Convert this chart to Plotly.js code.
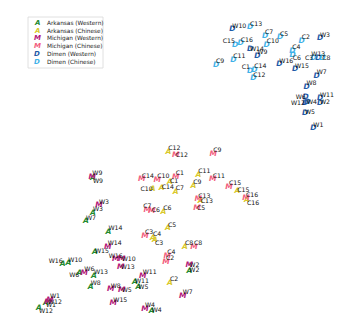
<!DOCTYPE html>
<html>
<head>
<meta charset="utf-8">
<script src="https://cdn.plot.ly/plotly-3.0.1.min.js"></script>
<style>html,body{margin:0;padding:0;background:#fff;}#chart{width:350px;height:333px;}</style>
</head>
<body>
<div id="chart"></div>
<script>
// Embedding coordinates (x to the right, y downward)
const westLabels = ["W1","W2","W3","W4","W5","W6","W7","W8","W9","W10","W11","W12","W13","W14","W15","W16"];
const chinLabels = ["C1","C2","C3","C4","C5","C6","C7","C8","C9","C10","C11","C12","C13","C14","C15","C16"];

const arkW_x = [46, 189.3, 93, 151.7, 138.3, 79.3, 86, 90.7, 93, 68.3, 135, 39, 94, 108.5, 95, 62.7];
const arkW_y = [302.7, 270.7, 213, 310.7, 287.3, 272.7, 221.5, 286.7, 178, 263.3, 281.7, 308.3, 276, 232, 251.7, 264.3];

const arkC_x = [170, 170, 155, 153, 168, 163.3, 175.7, 185, 193.3, 152.7, 198.3, 168.3, 200.7, 161.7, 237.3, 247];
const arkC_y = [181.7, 282.7, 240, 238, 228.3, 211.7, 191.7, 246.7, 186, 189.3, 175, 151.7, 201, 187.7, 190.7, 200];

const micW_x = [50, 189.3, 99, 145, 121.7, 84.3, 182.7, 110.7, 92.3, 121.7, 142.7, 48, 120.7, 107.7, 113.3, 115.7];
const micW_y = [300, 265, 205.5, 309, 290, 272.7, 296, 289.3, 176.7, 259.3, 276, 302.5, 267.3, 246.7, 303.3, 259.3];

const micC_x = [175.7, 166, 145, 167.3, 197, 151.7, 147.3, 194, 213.3, 157.3, 212.7, 175.7, 198.3, 141.7, 229, 246];
const micC_y = [176.7, 261.7, 236, 256, 208, 210.7, 210, 246.7, 154, 180, 179.3, 155, 199.3, 179.3, 186.7, 198.3];

const dimW_x = [313.3, 320, 320, 307, 305, 305.7, 316.7, 306.5, 257.3, 232.3, 320, 305, 318.3, 250, 295, 279.3];
const dimW_y = [128.3, 102.7, 38.3, 102, 112.7, 97.3, 76, 86.7, 56, 29.3, 98.3, 103.5, 57.7, 49.3, 69.3, 64.3];

const dimC_x = [250, 301.7, 313.3, 292.3, 280, 292.7, 265, 322.3, 216, 266.7, 233.3, 253.3, 250, 254.3, 235, 240.7];
const dimC_y = [71, 40.7, 58.3, 50.7, 37.3, 55, 36, 58.3, 65, 45, 60, 78.3, 27.3, 70, 45, 43.3];

const seriesNames = ["Arkansas (Western)","Arkansas (Chinese)","Michigan (Western)","Michigan (Chinese)","Dimen (Western)","Dimen (Chinese)"];
const seriesGlyphs = ["A","A","M","M","D","D"];

// label placement (style)
const TR="top right", MR="middle right", BR="bottom right", TL="top left", ML="middle left", BL="bottom left", TC="top center", BC="bottom center";
const arkW_pos = [BR,MR,TR,MR,MR,BL,TR,TR,BR,TR,MR,BR,TR,TR,MR,TL];
const arkC_pos = [MR,TR,BR,TR,TR,TR,TR,TR,TR,ML,TR,TR,MR,MR,MR,BR];
const micW_pos = [TR,MR,TR,TR,MR,TR,TR,TR,TR,MR,TR,MR,MR,TR,TR,TC];
const micC_pos = [TR,TR,TR,TR,MR,MR,TC,TR,TR,TR,TR,MR,TR,TR,TR,TR];
const dimW_pos = [TR,MR,TR,MR,MR,ML,TR,TR,TR,TR,TR,ML,TC,MR,TR,TR];
const dimC_pos = [TL,TR,ML,TR,TR,BR,TR,MR,TR,TR,TR,TR,TR,TR,TL,TR];

const colors = ["#1f8a2e","#d9c82a","#b3177a","#f2607e","#1f5aa8","#3fb1e8"];

const groups = [
  {x: arkW_x, y: arkW_y, lbl: westLabels, pos: arkW_pos},
  {x: arkC_x, y: arkC_y, lbl: chinLabels, pos: arkC_pos},
  {x: micW_x, y: micW_y, lbl: westLabels, pos: micW_pos},
  {x: micC_x, y: micC_y, lbl: chinLabels, pos: micC_pos},
  {x: dimW_x, y: dimW_y, lbl: westLabels, pos: dimW_pos},
  {x: dimC_x, y: dimC_y, lbl: chinLabels, pos: dimC_pos}
];

const traces = [];
groups.forEach((g, i) => {
  traces.push({
    type: "scatter", mode: "text", x: g.x, y: g.y,
    text: g.x.map(() => seriesGlyphs[i]),
    textposition: "middle center",
    textfont: {family: "DejaVu Sans", size: 7.5, color: colors[i], style: "italic", weight: "bold"},
    name: seriesNames[i], showlegend: false, hoverinfo: "skip", cliponaxis: false
  });
});
groups.forEach((g, i) => {
  traces.push({
    type: "scatter", mode: "text", x: g.x, y: g.y,
    text: g.lbl, textposition: g.pos,
    textfont: {family: "DejaVu Sans", size: 6.2, color: "#111"},
    marker: {size: 3},
    showlegend: false, hoverinfo: "skip", cliponaxis: false
  });
});

// legend drawn as annotations + box
const W = 350, H = 333;
const annotations = [];
const legX0 = 28, legY0 = 17, legX1 = 103, legY1 = 68;
seriesNames.forEach((nm, i) => {
  const yy = 23 + i * 7.7;
  annotations.push({xref: "paper", yref: "paper", x: 37 / W, y: 1 - yy / H, xanchor: "center", yanchor: "middle",
    text: seriesGlyphs[i], showarrow: false,
    font: {family: "DejaVu Sans", size: 7, color: colors[i], style: "italic", weight: "bold"}});
  annotations.push({xref: "paper", yref: "paper", x: 44.5 / W, y: 1 - yy / H, xanchor: "left", yanchor: "middle",
    text: nm, showarrow: false, font: {family: "DejaVu Sans", size: 5.8, color: "#222"}});
});

const layout = {
  width: W, height: H,
  margin: {l: 0, r: 0, t: 0, b: 0},
  paper_bgcolor: "#fff", plot_bgcolor: "#fff",
  xaxis: {range: [0, W], visible: false, fixedrange: true},
  yaxis: {range: [H, 0], visible: false, fixedrange: true},
  showlegend: false,
  annotations: annotations,
  shapes: [{type: "rect", xref: "paper", yref: "paper",
    x0: legX0 / W, x1: legX1 / W, y0: 1 - legY1 / H, y1: 1 - legY0 / H,
    line: {color: "#d8d8d8", width: 0.8}, fillcolor: "rgba(255,255,255,0.8)", layer: "below"}]
};

Plotly.newPlot("chart", traces, layout, {staticPlot: true, displayModeBar: false});
</script>
</body>
</html>
